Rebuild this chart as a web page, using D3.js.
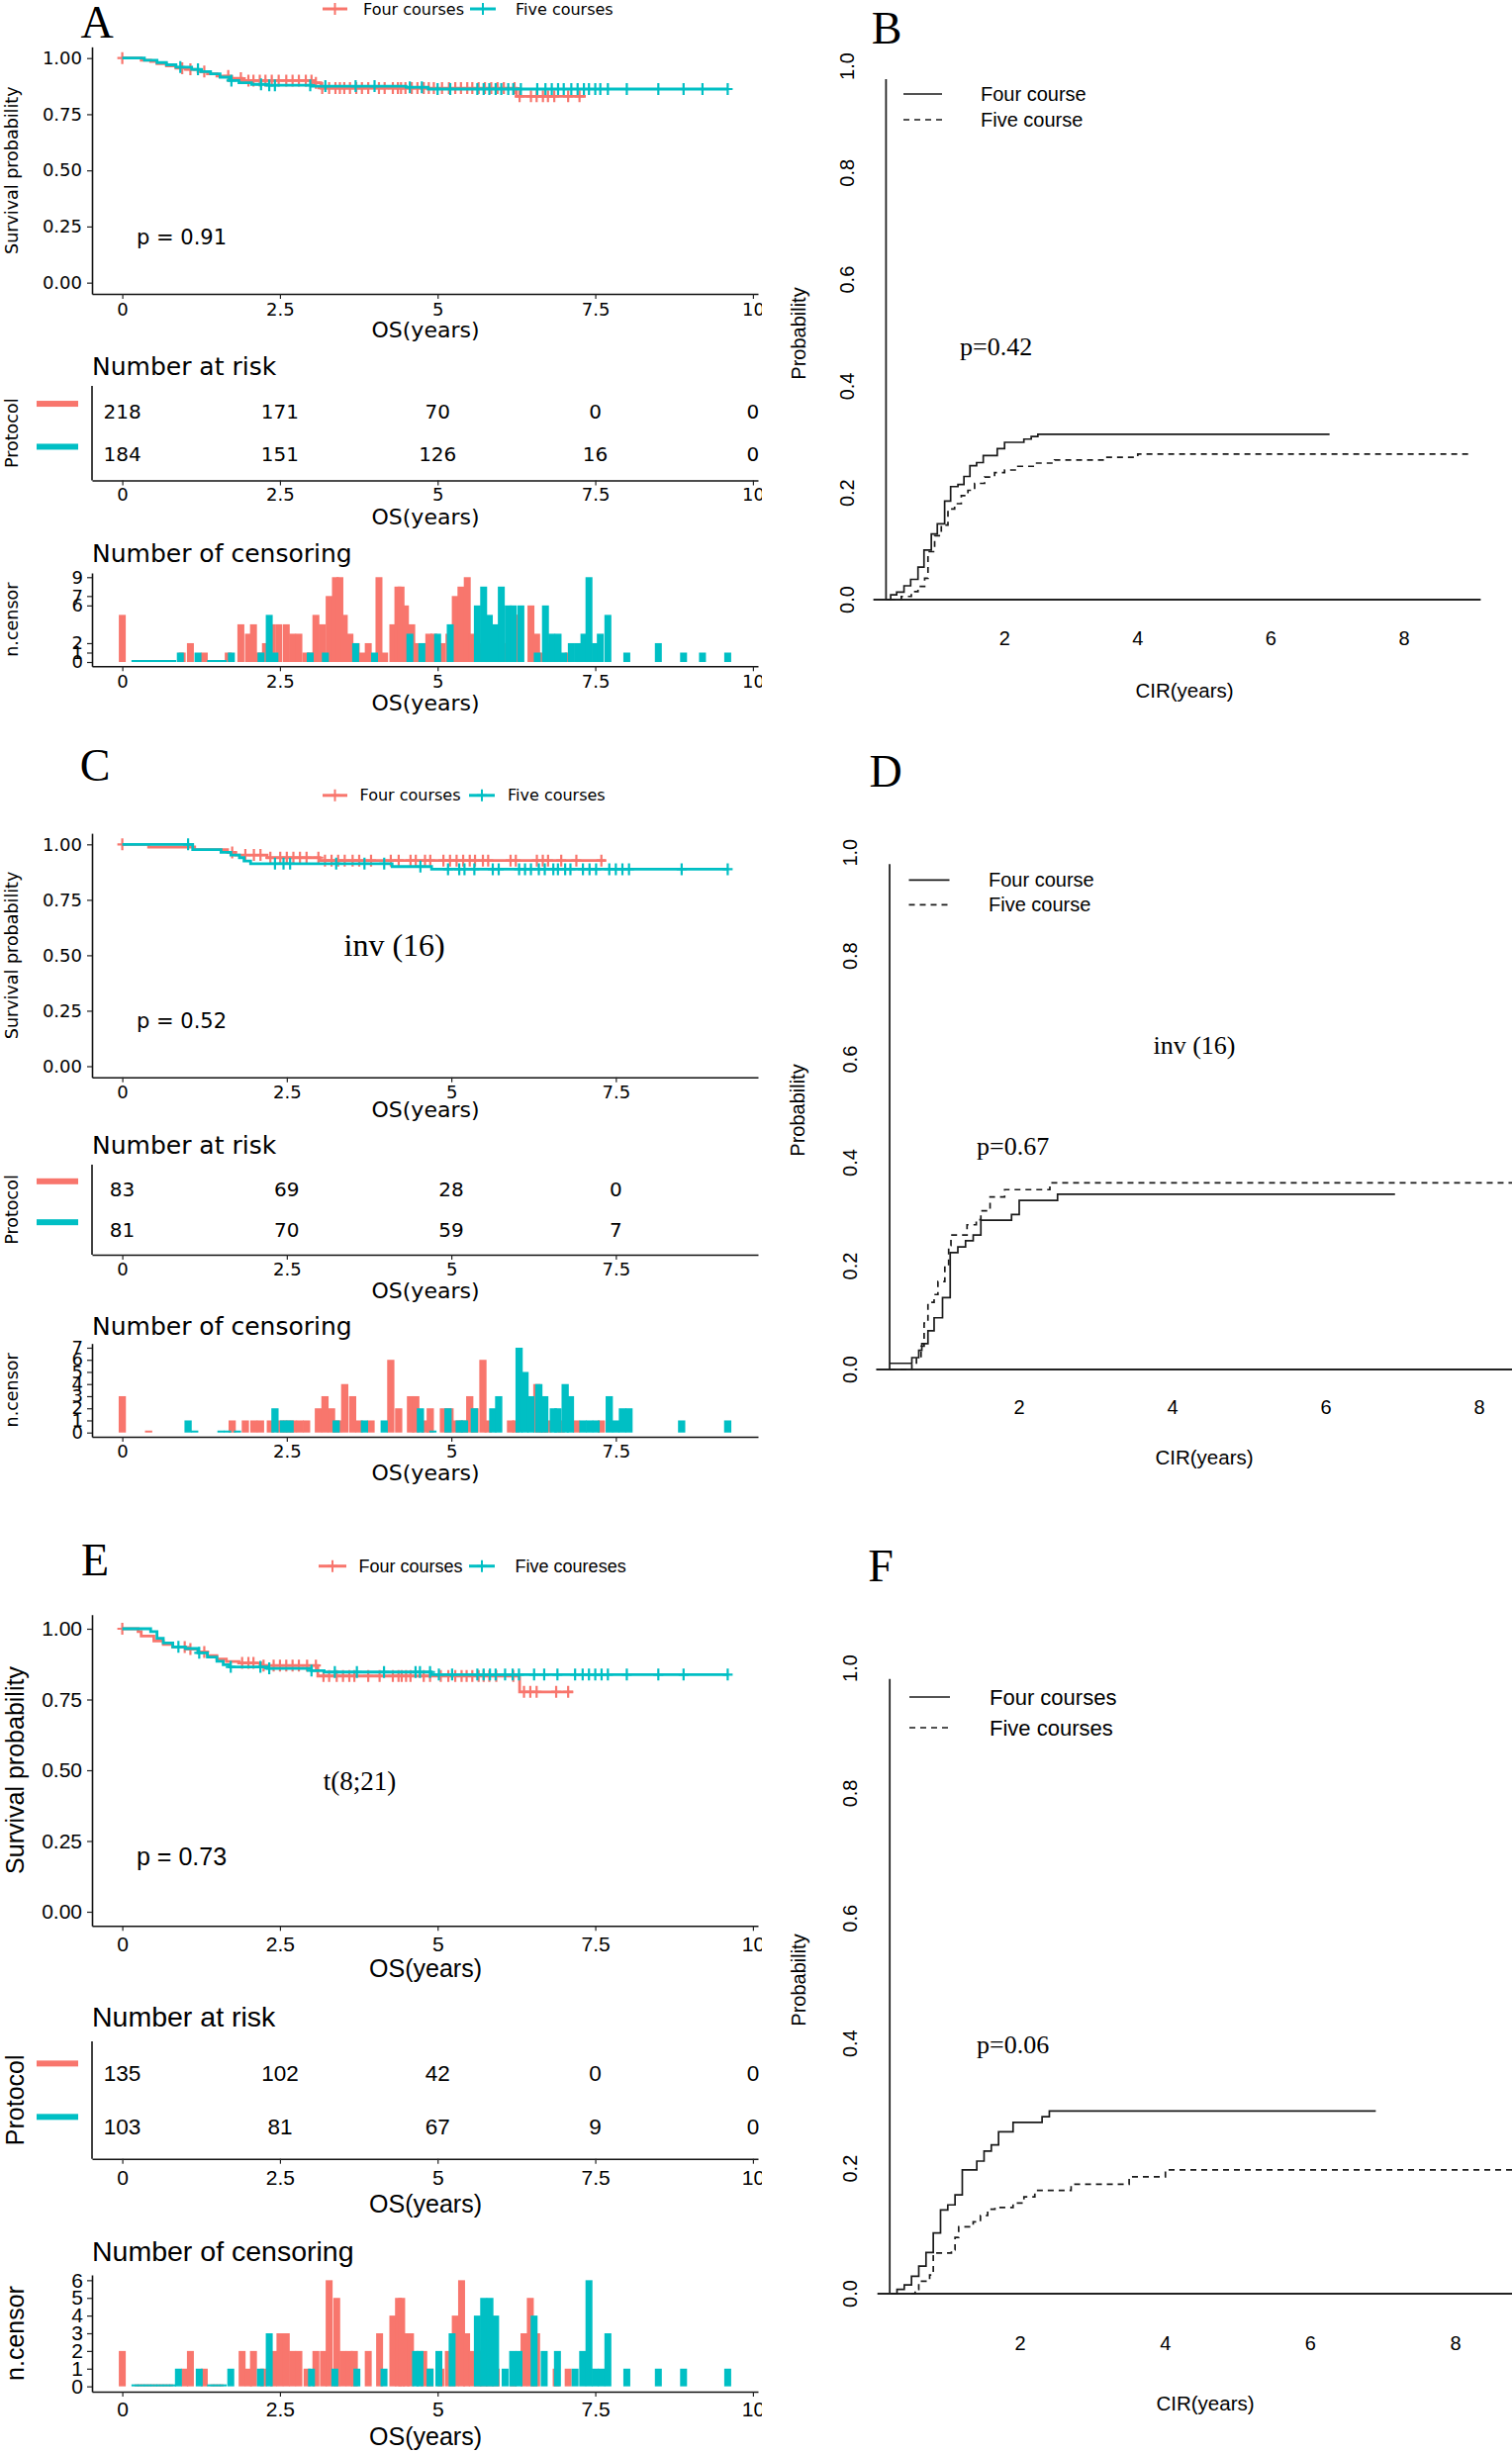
<!DOCTYPE html>
<html><head><meta charset="utf-8">
<script src="https://cdn.jsdelivr.net/npm/d3@7"></script>
<style>body{margin:0;background:#fff}svg{display:block}</style>
</head><body>
<script>
// ================= DATA =================
const osTicks = [0, 2.5, 5, 7.5, 10];
const osTickLabels = ["0", "2.5", "5", "7.5", "10"];
const survTicks = [0, 0.25, 0.5, 0.75, 1];
const survTickLabels = ["0.00", "0.25", "0.50", "0.75", "1.00"];
const cirXTicks = [2, 4, 6, 8];
const cirYTicks = [0, 0.2, 0.4, 0.6, 0.8, 1.0];
const cirYTickLabels = ["0.0", "0.2", "0.4", "0.6", "0.8", "1.0"];

// Panel A : KM (time, survival)
const A_kmFour = [[0,1],[0.3,0.99],[0.45,0.985],[0.55,0.975],[0.7,0.965],[0.85,0.955],[1.0,0.95],[1.2,0.94],[1.35,0.93],[1.5,0.92],[1.7,0.91],[1.9,0.9],[3.05,0.89],[3.15,0.866],[6.25,0.83],[7.35,0.83]];
const A_kmFive = [[0,1],[0.35,0.99],[0.55,0.98],[0.7,0.97],[0.85,0.96],[1.1,0.95],[1.25,0.94],[1.4,0.93],[1.55,0.915],[1.7,0.9],[1.85,0.89],[2.05,0.883],[2.3,0.879],[3.0,0.875],[4.5,0.87],[4.85,0.862],[9.6,0.862]];
const A_riskFour = [218, 171, 70, 0, 0];
const A_riskFive = [184, 151, 126, 16, 0];
const A_censFour = [[0.0,5],[0.25,0],[0.35,0],[0.45,0],[0.55,0],[0.65,0],[0.75,0],[0.95,1],[1.08,2],[1.3,1],[1.45,0],[1.55,0],[1.68,1],[1.88,4],[2.0,3],[2.08,4],[2.18,1],[2.27,2],[2.37,4],[2.48,4],[2.6,4],[2.7,3],[2.8,3],[2.91,1],[3.0,1],[3.07,5],[3.17,4],[3.28,7],[3.38,9],[3.45,9],[3.52,5],[3.61,3],[3.71,2],[3.8,1],[3.9,2],[4.07,9],[4.16,1],[4.29,4],[4.37,8],[4.42,8],[4.49,6],[4.59,4],[4.68,2],[4.78,2],[4.86,3],[4.94,3],[5.07,2],[5.18,3],[5.28,7],[5.37,8],[5.47,9],[5.55,3],[5.65,2],[5.75,2],[5.85,2],[5.95,2],[6.05,2],[6.22,5],[6.3,5],[6.48,6],[6.57,3],[6.67,1],[6.75,2],[6.85,1],[7.07,1],[7.25,1]];
const A_censFive = [[0.2,0],[0.3,0],[0.4,0],[0.5,0],[0.6,0],[0.7,0],[0.8,0],[0.92,1],[1.2,1],[1.4,0],[1.5,0],[1.6,0],[1.73,1],[2.2,1],[2.33,5],[2.42,1],[2.98,1],[3.22,1],[3.7,2],[4.0,1],[4.56,3],[4.75,2],[5.0,3],[5.2,4],[5.63,6],[5.73,8],[5.82,5],[5.92,4],[6.01,8],[6.12,6],[6.2,6],[6.32,6],[6.58,1],[6.71,6],[6.81,3],[6.91,3],[7.0,1],[7.12,2],[7.22,2],[7.32,3],[7.4,9],[7.5,2],[7.58,3],[7.7,5],[8.0,1],[8.5,2],[8.9,1],[9.2,1],[9.6,1]];

// Panel C : inv(16)
const C_kmFour = [[0,1],[0.4,0.988],[1.1,0.976],[1.6,0.964],[1.72,0.952],[2.2,0.94],[3.0,0.927],[7.35,0.927]];
const C_kmFive = [[0,1],[1.07,0.976],[1.5,0.964],[1.65,0.952],[1.78,0.94],[1.85,0.925],[1.95,0.913],[4.1,0.9],[4.7,0.888],[9.2,0.888]];
const C_riskFour = [83, 69, 28, 0];
const C_riskFive = [81, 70, 59, 7];
const C_censFour = [[0.0,3],[0.4,0],[1.67,1],[1.87,1],[2.0,1],[2.1,1],[2.25,1],[2.4,1],[2.5,1],[2.6,1],[2.7,1],[2.8,1],[2.98,2],[3.08,3],[3.18,2],[3.28,1],[3.38,4],[3.5,3],[3.6,1],[3.78,1],[4.08,6],[4.2,2],[4.38,3],[4.46,3],[4.6,1],[4.68,2],[4.88,2],[4.98,2],[5.08,1],[5.18,1],[5.28,3],[5.36,2],[5.48,6],[5.56,1],[5.9,1],[5.98,1],[6.3,4],[6.39,2],[6.47,1],[6.67,1],[6.9,1],[7.28,1]];
const C_censFive = [[1.0,1],[1.1,0],[1.5,0],[1.6,0],[1.75,0],[2.32,2],[2.45,1],[2.55,1],[3.25,1],[3.68,1],[3.98,1],[4.53,2],[4.72,0],[4.95,2],[5.12,1],[5.2,1],[5.35,2],[5.63,2],[5.72,3],[6.03,7],[6.12,5],[6.21,3],[6.33,4],[6.42,3],[6.55,2],[6.62,2],[6.73,4],[6.81,3],[7.0,1],[7.1,1],[7.2,1],[7.4,3],[7.5,1],[7.6,2],[7.7,2],[8.5,1],[9.2,1]];

// Panel E : t(8;21)
const E_kmFour = [[0,1],[0.25,0.99],[0.3,0.974],[0.5,0.957],[0.65,0.945],[0.8,0.935],[1.0,0.928],[1.2,0.918],[1.35,0.905],[1.5,0.893],[1.65,0.884],[1.85,0.879],[2.2,0.87],[3.1,0.833],[6.3,0.777],[7.15,0.777]];
const E_kmFive = [[0,1],[0.45,0.99],[0.55,0.966],[0.65,0.95],[0.8,0.936],[1.0,0.93],[1.2,0.915],[1.35,0.9],[1.5,0.885],[1.6,0.873],[1.7,0.865],[2.3,0.86],[3.0,0.852],[3.2,0.847],[4.9,0.838],[9.6,0.838]];
const E_riskFour = [135, 102, 42, 0, 0];
const E_riskFive = [103, 81, 67, 9, 0];
const E_censFour = [[0.0,2],[0.25,0],[0.35,0],[0.45,0],[0.55,0],[0.65,0],[0.75,0],[0.99,1],[1.08,2],[1.3,1],[1.45,0],[1.55,0],[1.9,2],[2.0,1],[2.08,2],[2.24,1],[2.4,2],[2.5,3],[2.6,3],[2.7,2],[2.8,2],[2.93,1],[3.07,2],[3.19,2],[3.28,6],[3.4,5],[3.5,2],[3.6,2],[3.68,2],[3.9,2],[4.08,3],[4.29,4],[4.38,5],[4.43,5],[4.5,3],[4.57,3],[4.78,2],[4.88,1],[5.05,1],[5.17,2],[5.28,4],[5.38,6],[5.46,3],[5.55,2],[5.65,2],[5.73,2],[5.82,1],[5.93,1],[6.2,1],[6.37,3],[6.47,5],[6.57,3],[6.88,1],[7.07,1]];
const E_censFive = [[0.2,0],[0.3,0],[0.4,0],[0.5,0],[0.6,0],[0.7,0],[0.8,0],[0.89,1],[1.22,1],[1.4,0],[1.5,0],[1.6,0],[1.72,1],[2.19,1],[2.33,3],[3.0,1],[3.37,1],[3.72,1],[4.15,1],[4.65,2],[4.72,2],[4.88,1],[5.02,2],[5.23,3],[5.63,4],[5.73,5],[5.83,5],[5.92,4],[6.07,1],[6.19,2],[6.29,2],[6.53,4],[6.69,2],[6.9,2],[7.18,1],[7.3,2],[7.4,6],[7.5,1],[7.6,1],[7.7,3],[8.0,1],[8.5,1],[8.9,1],[9.6,1]];

// Cumulative incidence of relapse (time, probability)
const B_four = [[0.22,0],[0.29,0.009],[0.38,0.014],[0.49,0.026],[0.59,0.038],[0.70,0.061],[0.79,0.093],[0.90,0.123],[0.99,0.142],[1.10,0.185],[1.19,0.212],[1.30,0.216],[1.39,0.231],[1.48,0.251],[1.58,0.257],[1.68,0.27],[1.89,0.283],[2.0,0.295],[2.29,0.301],[2.40,0.306],[2.50,0.31],[6.88,0.31]];
const B_five = [[0.27,0],[0.45,0.006],[0.6,0.015],[0.7,0.025],[0.8,0.04],[0.85,0.09],[0.95,0.12],[1.05,0.14],[1.15,0.17],[1.25,0.18],[1.35,0.195],[1.45,0.205],[1.55,0.218],[1.7,0.23],[1.85,0.238],[2.0,0.243],[2.2,0.25],[2.45,0.256],[2.75,0.262],[3.5,0.267],[4.0,0.273],[8.97,0.273]];
const D_four = [[0.31,0.012],[0.60,0.023],[0.69,0.037],[0.73,0.05],[0.81,0.075],[0.89,0.1],[1.0,0.139],[1.1,0.226],[1.2,0.237],[1.3,0.249],[1.4,0.26],[1.5,0.289],[1.9,0.3],[2.0,0.327],[2.5,0.339],[6.9,0.339]];
const D_five = [[0.31,0],[0.6,0.01],[0.66,0.025],[0.72,0.045],[0.76,0.09],[0.81,0.13],[0.89,0.145],[0.94,0.17],[1.03,0.2],[1.08,0.24],[1.11,0.26],[1.32,0.28],[1.44,0.29],[1.5,0.307],[1.62,0.334],[1.81,0.348],[2.4,0.361],[8.7,0.361]];
const F_four = [[0.22,0],[0.3,0.007],[0.4,0.014],[0.5,0.028],[0.6,0.044],[0.7,0.066],[0.8,0.097],[0.9,0.134],[1.0,0.142],[1.1,0.158],[1.2,0.198],[1.4,0.212],[1.5,0.228],[1.6,0.238],[1.7,0.259],[1.9,0.274],[2.3,0.283],[2.4,0.292],[6.9,0.292]];
const F_five = [[0.5,0],[0.55,0.007],[0.6,0.02],[0.75,0.03],[0.8,0.065],[1.05,0.07],[1.1,0.09],[1.15,0.107],[1.35,0.115],[1.45,0.125],[1.55,0.135],[1.65,0.138],[1.9,0.145],[2.05,0.155],[2.2,0.165],[2.7,0.175],[3.5,0.187],[4.0,0.198],[8.8,0.198]];

// ================= DRAWING =================
const RED = "#F8766D", TEAL = "#00BFC4";
const SERIF = "Liberation Serif, Times New Roman, serif";
const SANS = "Liberation Sans, Arial, sans-serif";
const svg = d3.select("body").append("svg").attr("width", 1528).attr("height", 2480);
svg.append("defs").append("clipPath").attr("id", "clipLeft")
  .append("rect").attr("x", 0).attr("y", 0).attr("width", 770).attr("height", 2480);

function txt(g, x, y, str, o = {}) {
  const t = g.append("text").attr("x", x).attr("y", y).text(str)
    .attr("font-size", o.size || 18).attr("font-family", o.family || SANS)
    .attr("text-anchor", o.anchor || "middle")
    .attr("dominant-baseline", o.base || "central").attr("fill", "#000");
  if (o.rotate) t.attr("transform", `rotate(${o.rotate},${x},${y})`);
  return t;
}
function styleAxis(ax, fam, size, offset, horiz) {
  ax.select(".domain").attr("stroke", "#111").attr("stroke-width", 1.6);
  ax.selectAll(".tick line").attr("stroke", "#222").attr("stroke-width", 1.2);
  const t = ax.selectAll(".tick text").attr("font-family", fam).attr("font-size", size).attr("fill", "#000");
  if (horiz) t.attr("y", offset).attr("dy", "0.35em");
}
function stepAt(km, t) { let s = km[0][1]; for (const [tt, v] of km) if (tt <= t) s = v; return s; }

function leftPanel(c) {
  const L = svg.append("g").attr("clip-path", "url(#clipLeft)");
  const f = c.font;
  const x = d3.scaleLinear().domain(c.xDom).range([93, 766]);
  const ticks = osTicks.filter(v => v <= c.xDom[1]);
  const fmt = d => osTickLabels[osTicks.indexOf(d)];
  const cols = [RED, TEAL];

  txt(L, c.letterPos[0], c.letterPos[1], c.letter, { family: SERIF, size: 46, base: "alphabetic" });

  // legend
  c.legX.forEach((lx, i) => {
    L.append("line").attr("x1", lx[0]).attr("x2", lx[1]).attr("y1", c.legY).attr("y2", c.legY)
      .attr("stroke", cols[i]).attr("stroke-width", 3);
    const m = (lx[0] + lx[1]) / 2;
    L.append("path").attr("d", `M${m-5},${c.legY}H${m+5}M${m},${c.legY-6}V${c.legY+6}`).attr("stroke", cols[i]).attr("stroke-width", 2);
    txt(L, lx[2], c.legY, c.legLabels[i], { family: f.family, size: f.leg, anchor: "start" });
  });

  // KM plot
  const y = d3.scaleLinear().domain([-0.05, 1.05]).range(c.kmRange);
  const ax = L.append("g").attr("transform", `translate(0,${c.kmRange[0]})`)
    .call(d3.axisBottom(x).tickValues(ticks).tickFormat(fmt).tickSize(5).tickSizeOuter(0));
  styleAxis(ax, f.family, f.tick, c.kmTickOff, true);
  const ay = L.append("g").attr("transform", `translate(93,0)`)
    .call(d3.axisLeft(y).tickValues(survTicks).tickFormat((d, i) => survTickLabels[i]).tickSize(5).tickPadding(5).tickSizeOuter(0));
  styleAxis(ay, f.family, f.tick, 0, false);
  txt(L, f.ylabX, (c.kmRange[0] + c.kmRange[1]) / 2, "Survival probability", { family: f.family, size: f.ylab, rotate: -90 });
  txt(L, 430, c.kmRange[0] + c.kmTitleOff, "OS(years)", { family: f.family, size: f.axis });
  const line = d3.line().x(d => x(d[0])).y(d => y(d[1])).curve(d3.curveStepAfter);
  [[c.kmFour, c.censFour], [c.kmFive, c.censFive]].forEach(([km, cens], i) => {
    L.append("path").datum(km).attr("d", line).attr("fill", "none").attr("stroke", cols[i]).attr("stroke-width", 2.8);
    cens.filter(d => d[1] > 0 && d[0] <= km[km.length - 1][0]).forEach(d => {
      const px = x(d[0]), py = y(stepAt(km, d[0]));
      L.append("path").attr("d", `M${px-5},${py}H${px+5}M${px},${py-6}V${py+6}`).attr("stroke", cols[i]).attr("stroke-width", 2.2);
    });
  });
  txt(L, 138, c.pY, c.p, { family: f.family, size: f.p, anchor: "start" });
  if (c.annot) txt(L, c.annot[1], c.annot[2], c.annot[0], { family: SERIF, size: c.annot[3] });

  // Number at risk
  const R = c.risk;
  const r = d3.scaleLinear().domain([0.4, 2.6]).range([R.top, R.bot]);
  txt(L, 93, R.titleY, "Number at risk", { family: f.family, size: f.title, anchor: "start" });
  L.append("line").attr("x1", 93).attr("x2", 93).attr("y1", r(0.4)).attr("y2", r(2.6)).attr("stroke", "#111").attr("stroke-width", 1.6);
  const rx = L.append("g").attr("transform", `translate(0,${R.bot})`)
    .call(d3.axisBottom(x).tickValues(ticks).tickFormat(fmt).tickSize(5).tickSizeOuter(0));
  styleAxis(rx, f.family, f.tick, R.tickOff, true);
  txt(L, 430, R.bot + R.titleOff, "OS(years)", { family: f.family, size: f.axis });
  [c.riskFour, c.riskFive].forEach((vals, i) => {
    vals.forEach((v, j) => txt(L, x(ticks[j]), r(i + 1), String(v), { family: f.family, size: f.num }));
    L.append("rect").attr("x", 37).attr("width", 42).attr("y", r(i + 1) + R.barOff - 3).attr("height", 6).attr("fill", cols[i]);
  });
  txt(L, f.ylabX, (R.top + R.bot) / 2, "Protocol", { family: f.family, size: f.ylab, rotate: -90 });

  // Number of censoring
  const C = c.cens;
  const yc = d3.scaleLinear().domain([-0.05 * C.max, 1.05 * C.max]).range([C.bot, C.top]);
  txt(L, 93, C.titleY, "Number of censoring", { family: f.family, size: f.title, anchor: "start" });
  const bw = 0.11;
  [c.censFour, c.censFive].forEach((arr, i) => {
    L.append("g").selectAll("rect").data(arr).join("rect")
      .attr("x", d => x(d[0] - bw / 2)).attr("width", d => x(d[0] + bw / 2) - x(d[0] - bw / 2))
      .attr("y", d => d[1] > 0 ? yc(d[1]) : yc(0) - 2)
      .attr("height", d => d[1] > 0 ? yc(0) - yc(d[1]) : 2)
      .attr("fill", cols[i]);
  });
  const cx = L.append("g").attr("transform", `translate(0,${C.bot})`)
    .call(d3.axisBottom(x).tickValues(ticks).tickFormat(fmt).tickSize(5).tickSizeOuter(0));
  styleAxis(cx, f.family, f.tick, C.tickOff, true);
  const cy = L.append("g").attr("transform", `translate(93,0)`)
    .call(d3.axisLeft(yc).tickValues(C.yTicks).tickFormat(d3.format("d")).tickSize(5).tickPadding(4).tickSizeOuter(0));
  styleAxis(cy, f.family, f.tick, 0, false);
  txt(L, f.ylabX, (C.top + C.bot) / 2, "n.censor", { family: f.family, size: f.ylab, rotate: -90 });
  txt(L, 430, C.bot + C.titleOff, "OS(years)", { family: f.family, size: f.axis });
}

function rightPanel(c) {
  const g = svg.append("g");
  const x = d3.scaleLinear().domain([0, 8]).range(c.xr);
  const y = d3.scaleLinear().domain([0, 1]).range(c.yr);
  txt(g, c.letterPos[0], c.letterPos[1], c.letter, { family: SERIF, size: 46, base: "alphabetic" });
  g.append("line").attr("x1", x(c.xAxis[0])).attr("x2", x(c.xAxis[1])).attr("y1", y(0)).attr("y2", y(0)).attr("stroke", "#222").attr("stroke-width", 1.8);
  g.append("line").attr("x1", x(c.yAxisAt)).attr("x2", x(c.yAxisAt)).attr("y1", y(0)).attr("y2", y(c.yTop)).attr("stroke", "#222").attr("stroke-width", 1.8);
  cirXTicks.forEach(v => txt(g, x(v), c.xLabY, String(v), { size: 20 }));
  cirYTicks.forEach((v, i) => txt(g, c.yLabX, y(v), cirYTickLabels[i], { size: 20, rotate: -90 }));
  const line = d3.line().x(d => x(d[0])).y(d => y(d[1])).curve(d3.curveStepAfter);
  g.append("path").datum(c.four).attr("d", line).attr("fill", "none").attr("stroke", "#1a1a1a").attr("stroke-width", 1.7);
  g.append("path").datum(c.five).attr("d", line).attr("fill", "none").attr("stroke", "#1a1a1a").attr("stroke-width", 1.7).attr("stroke-dasharray", "6,5");
  const lg = c.legend;
  g.append("line").attr("x1", lg.x1).attr("x2", lg.x2).attr("y1", lg.y[0]).attr("y2", lg.y[0]).attr("stroke", "#1a1a1a").attr("stroke-width", 1.7);
  g.append("line").attr("x1", lg.x1).attr("x2", lg.x2).attr("y1", lg.y[1]).attr("y2", lg.y[1]).attr("stroke", "#1a1a1a").attr("stroke-width", 1.7).attr("stroke-dasharray", "6,5");
  txt(g, lg.tx, lg.y[0], lg.labels[0], { size: lg.size, anchor: "start" });
  txt(g, lg.tx, lg.y[1], lg.labels[1], { size: lg.size, anchor: "start" });
  txt(g, c.p[1], c.p[2], c.p[0], { family: SERIF, size: 26, anchor: "start" });
  if (c.annot) txt(g, c.annot[1], c.annot[2], c.annot[0], { family: SERIF, size: c.annot[3] });
  txt(g, c.ylab[0], c.ylab[1], "Probability", { size: 20, rotate: -90 });
  txt(g, c.xlab[0], c.xlab[1], "CIR(years)", { size: 20.5 });
}

const fontAC = { family: "DejaVu Sans", tick: 18, title: 25, axis: 22, num: 20, ylab: 17.5, p: 21, leg: 16, ylabX: 12 };
const fontE = { family: "Liberation Sans", tick: 21, title: 28.5, axis: 25, num: 22.5, ylab: 25, p: 25, leg: 18, ylabX: 15 };

leftPanel({
  letter: "A", letterPos: [98, 38], legY: 9, legX: [[326, 351, 367], [475, 501, 521]],
  legLabels: ["Four courses", "Five courses"], xDom: [-0.48, 10.08],
  kmRange: [297, 47.35], kmTickOff: 15.7, kmTitleOff: 36, p: "p = 0.91", pY: 240, annot: null,
  kmFour: A_kmFour, kmFive: A_kmFive, censFour: A_censFour, censFive: A_censFive,
  riskFour: A_riskFour, riskFive: A_riskFive,
  risk: { top: 390, bot: 485.5, titleY: 370, tickOff: 14.5, titleOff: 36.5, barOff: -8 },
  cens: { top: 579, bot: 673.3, max: 9, titleY: 559, tickOff: 15.2, titleOff: 36.7, yTicks: [0, 1, 2, 6, 7, 9] },
  font: fontAC
});
leftPanel({
  letter: "C", letterPos: [96, 789], legY: 803.8, legX: [[326, 351, 363.5], [474, 500, 513]],
  legLabels: ["Four courses", "Five courses"], xDom: [-0.46, 9.66],
  kmRange: [1088.7, 842.1], kmTickOff: 14.7, kmTitleOff: 33, p: "p = 0.52", pY: 1031.7,
  annot: ["inv (16)", 398.6, 955, 32],
  kmFour: C_kmFour, kmFive: C_kmFive, censFour: C_censFour, censFive: C_censFive,
  riskFour: C_riskFour, riskFive: C_riskFive,
  risk: { top: 1177, bot: 1268, titleY: 1157, tickOff: 15, titleOff: 36, barOff: -8 },
  cens: { top: 1357.7, bot: 1452, max: 7, titleY: 1340.4, tickOff: 14.7, titleOff: 36.6, yTicks: [0, 1, 2, 3, 4, 5, 6, 7] },
  font: fontAC
});
leftPanel({
  letter: "E", letterPos: [96, 1592], legY: 1582.7, legX: [[322, 350, 362.5], [474, 500, 520.6]],
  legLabels: ["Four courses", "Five coureses"], xDom: [-0.48, 10.08],
  kmRange: [1946.3, 1631.7], kmTickOff: 18.7, kmTitleOff: 42.7, p: "p = 0.73", pY: 1876,
  annot: ["t(8;21)", 363.6, 1800, 27],
  kmFour: E_kmFour, kmFive: E_kmFive, censFour: E_censFour, censFive: E_censFive,
  riskFour: E_riskFour, riskFive: E_riskFive,
  risk: { top: 2063, bot: 2181.7, titleY: 2038.3, tickOff: 19, titleOff: 45, barOff: -10 },
  cens: { top: 2299, bot: 2417, max: 6, titleY: 2275, tickOff: 18, titleOff: 44.7, yTicks: [0, 1, 2, 3, 4, 5, 6] },
  font: fontE
});

rightPanel({
  letter: "B", letterPos: [896, 44], xr: [880.6, 1419], yr: [606, 67], xAxis: [0.03, 9.15], yAxisAt: 0.22, yTop: 0.976,
  xLabY: 645, yLabX: 856, four: B_four, five: B_five,
  legend: { x1: 913, x2: 952, y: [95, 121], tx: 991, labels: ["Four course", "Five course"], size: 20 },
  p: ["p=0.42", 970, 350], annot: null, ylab: [807, 337], xlab: [1197, 697]
});
rightPanel({
  letter: "D", letterPos: [895, 795], xr: [875, 1495], yr: [1384, 861.7], xAxis: [0.135, 8.7], yAxisAt: 0.31, yTop: 0.978,
  xLabY: 1422, yLabX: 859, four: D_four, five: D_five,
  legend: { x1: 918.5, x2: 959.5, y: [889.4, 914.4], tx: 999, labels: ["Four course", "Five course"], size: 20 },
  p: ["p=0.67", 987, 1158], annot: ["inv (16)", 1207, 1056, 26], ylab: [806, 1122], xlab: [1217, 1472]
});
rightPanel({
  letter: "F", letterPos: [890, 1598], xr: [884.5, 1471], yr: [2318, 1686], xAxis: [0.03, 8.8], yAxisAt: 0.2, yTop: 0.983,
  xLabY: 2368, yLabX: 859, four: F_four, five: F_five,
  legend: { x1: 919, x2: 960, y: [1715, 1746], tx: 1000, labels: ["Four courses", "Five courses"], size: 22 },
  p: ["p=0.06", 987, 2066], annot: null, ylab: [807, 2001], xlab: [1218, 2428]
});
</script>
</body></html>
